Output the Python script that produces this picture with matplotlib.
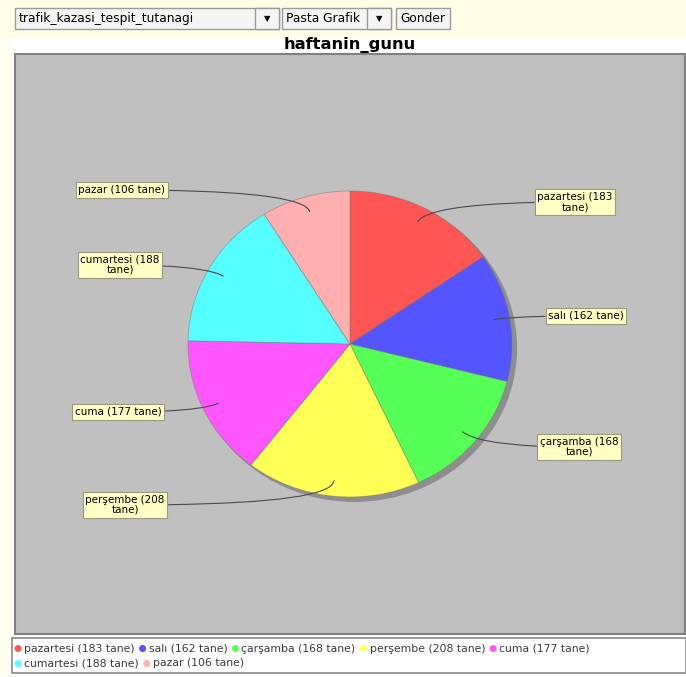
import numpy as np
import matplotlib.pyplot as plt
from matplotlib.patches import Rectangle, Circle, Ellipse

# data
days = ['pazartesi', 'salı', 'çarşamba', 'perşembe', 'cuma', 'cumartesi', 'pazar']
counts = [183, 162, 168, 208, 177, 188, 106]
colors = ['#FF5555', '#5555FF', '#55FF55', '#FFFF55', '#FF55FF', '#55FFFF', '#FFAFAF']
title = 'haftanin_gunu'

W, H = 686, 677
fig = plt.figure(figsize=(W / 100, H / 100), dpi=100)
fig.patch.set_facecolor('white')


def box(x0, y0, x1, y1, z=-5, **kw):
    # rectangle in image pixel coords (y down)
    r = Rectangle((x0, H - y1), x1 - x0, y1 - y0, transform=None, zorder=z, **kw)
    fig.patches.append(r)
    return r


def txt(x, y, s, **kw):
    return fig.text(x / W, 1 - y / H, s, **kw)


# page background pieces
box(0, 0, W, 37, facecolor='#FFFDE6', edgecolor='none', z=-10)
box(0, 37, 11, H, facecolor='#FFFEF0', edgecolor='none', z=-10)

# top form widgets
wstyle = dict(facecolor='#F4F4F4', edgecolor='#9A9A9A', lw=1)
box(15, 8, 279, 29, **wstyle)
box(255, 8, 279, 29, **wstyle)
txt(19, 18.5, 'trafik_kazasi_tespit_tutanagi', fontsize=8.8, va='center')
txt(267, 18.5, '▼', fontsize=6, va='center', ha='center')
box(282, 8, 391, 29, **wstyle)
box(367, 8, 391, 29, **wstyle)
txt(286, 18.5, 'Pasta Grafik', fontsize=8.8, va='center')
txt(379, 18.5, '▼', fontsize=6, va='center', ha='center')
box(396, 8, 450, 29, **wstyle)
txt(423, 18.5, 'Gonder', fontsize=8.8, va='center', ha='center')

# chart title
txt(350, 45, title, fontsize=11.8, fontweight='bold', ha='center', va='center')

# plot area
box(15, 54, 685, 634, facecolor='#C0C0C0', edgecolor='#808080', lw=1.5, z=-8)

# pie axes (slightly elliptical like the original)
cx, cy, RX, RY = 350, 344, 162, 153
ax = fig.add_axes([(cx - RX) / W, (H - cy - RY) / H, 2 * RX / W, 2 * RY / H])
ax.patch.set_alpha(0)
ax.add_patch(Ellipse((0.027, -0.028), 2.0, 2.0, color='#8E8E8E', zorder=0, clip_on=False))
wedges, _ = ax.pie(counts, colors=colors, startangle=90, counterclock=False,
                   radius=1.0, wedgeprops=dict(edgecolor=(0.45, 0.45, 0.45, 0.5), lw=0.6))
for w in wedges:
    w.set_clip_on(False)
ax.set_aspect('auto')
ax.set_xlim(-1, 1)
ax.set_ylim(-1, 1)
ax.axis('off')

# label positions (image px: box center) and wrapped text
label_pos = [(575, 202), (586, 316), (579, 447), (125, 505), (118, 412), (120, 265), (122, 190)]
label_txt = []
for d, c in zip(days, counts):
    s = '%s (%d tane)' % (d, c)
    if len(s) > 16:
        s = '%s (%d\ntane)' % (d, c)
    label_txt.append(s)

total = sum(counts)
start = 90.0
for i, c in enumerate(counts):
    span = 360.0 * c / total
    mid = np.radians(start - span / 2)
    start -= span
    px, py = 0.9 * np.cos(mid), 0.9 * np.sin(mid)
    # direction of the radial line on screen
    angB = np.degrees(np.arctan2(RY * np.sin(mid), RX * np.cos(mid)))
    lx, ly = label_pos[i]
    ax.annotate(label_txt[i], xy=(px, py), xycoords='data',
                xytext=(lx, H - ly), textcoords='figure pixels',
                ha='center', va='center', fontsize=7.5, linespacing=1.0,
                bbox=dict(boxstyle='square,pad=0.25', facecolor='#FFFFC4',
                          edgecolor='#9A9A80', lw=0.8),
                arrowprops=dict(arrowstyle='-', color='#4A4A4A', lw=0.8,
                                shrinkA=0, shrinkB=0,
                                connectionstyle='angle3,angleA=0,angleB=%.1f' % angB),
                annotation_clip=False)

# legend
box(12, 638, 686, 673, facecolor='white', edgecolor='#8A8A8A', lw=1.2)
renderer = fig.canvas.get_renderer()
rows = [[0, 1, 2, 3, 4], [5, 6]]
for r, idx in enumerate(rows):
    y = 648.5 + r * 15
    x = 15
    for i in idx:
        fig.patches.append(Circle((x + 3, H - y), 2.8, transform=None,
                                  color=colors[i], zorder=2))
        t = txt(x + 9, y, '%s (%d tane)' % (days[i], counts[i]),
                fontsize=7.8, va='center', color='#3A3A3A')
        x = t.get_window_extent(renderer).x1 + 5

fig.savefig('out.png', dpi=100)
